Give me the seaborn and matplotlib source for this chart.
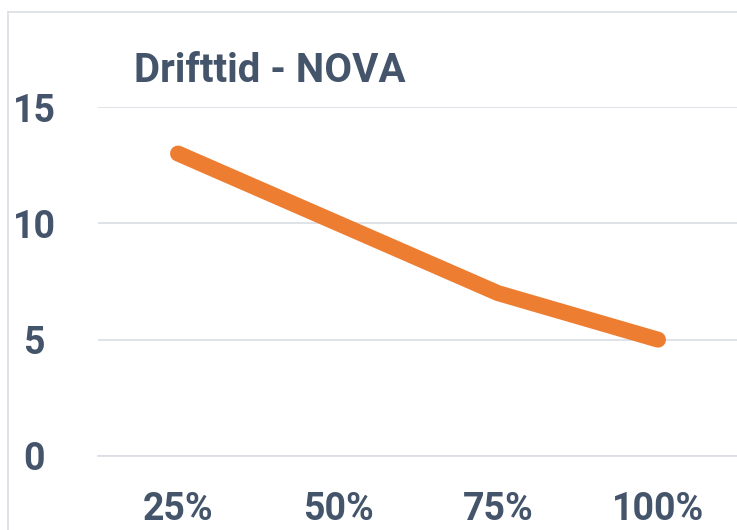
import matplotlib
matplotlib.use("Agg")
import matplotlib.pyplot as plt
import seaborn as sns
import pandas as pd
from matplotlib.lines import Line2D

categories = ['25%', '50%', '75%', '100%']
drifttid = [13, 10, 7, 5]
y_ticks = [0, 5, 10, 15]

text_color = '#44546A'
grid_color = '#D9DDE3'
line_color = '#ED7D31'

sns.set_style('white')
plt.rcParams['font.family'] = ['Roboto', 'DejaVu Sans']
plt.rcParams['font.weight'] = 'bold'

df = pd.DataFrame({'load': categories, 'hours': drifttid})

W, H = 737, 530
fig = plt.figure(figsize=(W / 100, H / 100), dpi=100)
ax = fig.add_axes([98 / W, 1 - 456 / H, 640 / W, (456 - 107) / H])

sns.lineplot(data=df, x='load', y='hours', ax=ax, color=line_color,
             linewidth=11.5, solid_capstyle='round', solid_joinstyle='round')

ax.set_xlim(-0.5, len(categories) - 0.5)
ax.set_ylim(0, 15)
ax.set_yticks(y_ticks)
ax.set_yticklabels([str(v) for v in y_ticks], ha='center')
ax.set_xticks(range(len(categories)))
ax.set_xticklabels(categories)
ax.set_xticks([i - 0.5 for i in range(len(categories) + 1)], minor=True)
ax.tick_params(axis='x', which='major', length=0, pad=25, labelsize=27,
               labelcolor=text_color)
ax.tick_params(axis='x', which='minor', length=9, width=1.2, color=grid_color,
               direction='out')
ax.tick_params(axis='y', length=0, pad=46, labelsize=27, labelcolor=text_color)
for lab in ax.get_xticklabels() + ax.get_yticklabels():
    lab.set_fontweight('bold')

ax.set_xlabel('')
ax.set_ylabel('')
ax.grid(axis='y', color=grid_color, linewidth=1.2)
ax.set_axisbelow(True)
for side in ['top', 'right', 'left']:
    ax.spines[side].set_visible(False)
ax.spines['bottom'].set_color(grid_color)
ax.spines['bottom'].set_linewidth(1.2)

# chart border (top and left edges visible)
fig.add_artist(Line2D([8 / W, 8 / W], [0, 1 - 12 / H], transform=fig.transFigure,
                      color=grid_color, linewidth=1.2))
fig.add_artist(Line2D([8 / W, 1], [1 - 12 / H, 1 - 12 / H], transform=fig.transFigure,
                      color=grid_color, linewidth=1.2))

fig.text(270 / W, 1 - 82 / H, 'Drifttid - NOVA', ha='center', va='baseline',
         fontsize=29, fontweight='bold', color=text_color)

fig.savefig('out.png', dpi=100)
